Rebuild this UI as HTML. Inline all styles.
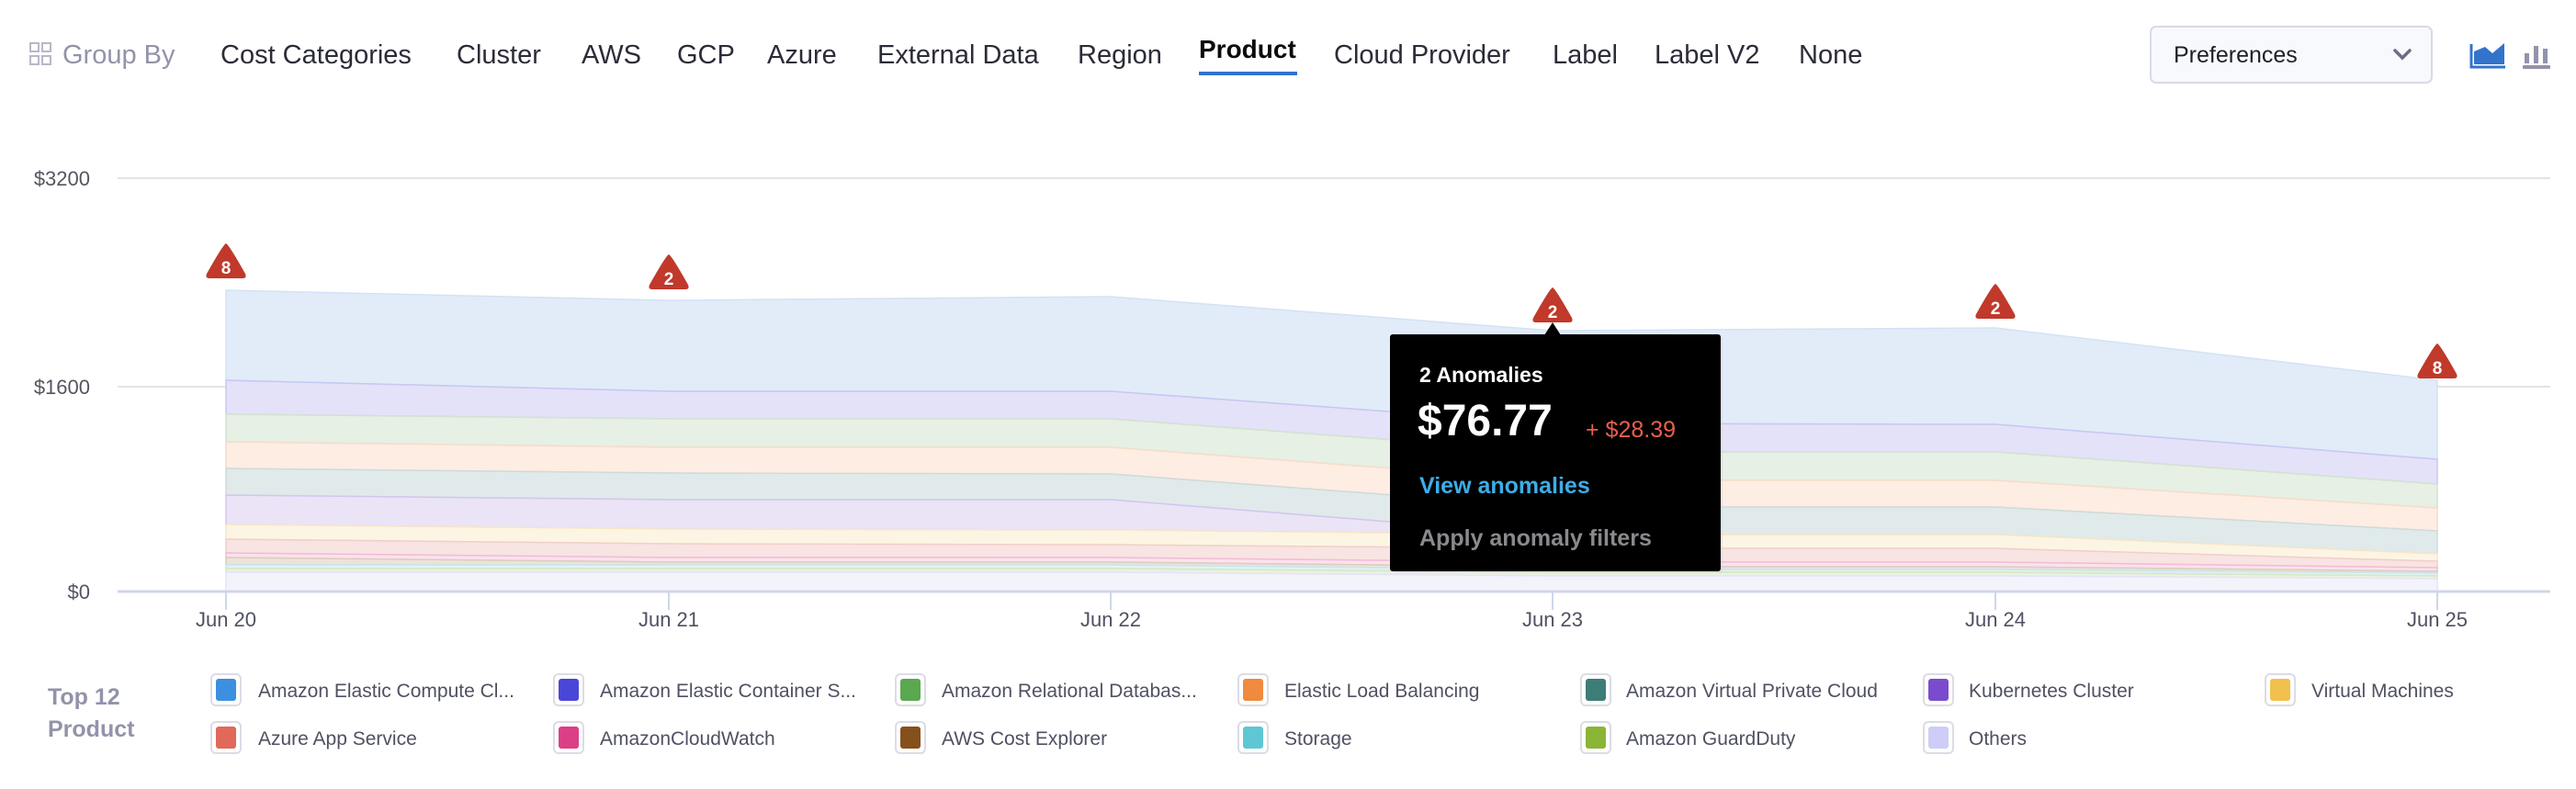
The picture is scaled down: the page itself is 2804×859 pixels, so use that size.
<!DOCTYPE html>
<html><head><meta charset="utf-8"><style>
html,body{margin:0;padding:0;background:#fff;}
body{width:2804px;height:854px;overflow:hidden;font-family:"Liberation Sans",sans-serif;}
</style></head><body>
<svg width="2804" height="854" viewBox="0 0 2804 854" xmlns="http://www.w3.org/2000/svg" font-family="Liberation Sans, sans-serif">
<!-- header -->
<g fill="none" stroke="#b8b8c8" stroke-width="2">
<rect x="33" y="47" width="9" height="9"/><rect x="46" y="47" width="9" height="9"/>
<rect x="33" y="61" width="9" height="9"/><rect x="46" y="61" width="9" height="9"/>
</g>
<g font-size="29" fill="#2b2c38">
<text x="68" y="69" fill="#9293aa">Group By</text>
<text x="240" y="69">Cost Categories</text>
<text x="497" y="69">Cluster</text>
<text x="633" y="69">AWS</text>
<text x="737" y="69">GCP</text>
<text x="835" y="69">Azure</text>
<text x="955" y="69">External Data</text>
<text x="1173" y="69">Region</text>
<text x="1305" y="63" fill="#0b0b0d" font-weight="bold" font-size="28">Product</text>
<text x="1452" y="69">Cloud Provider</text>
<text x="1690" y="69">Label</text>
<text x="1801" y="69">Label V2</text>
<text x="1958" y="69">None</text>
</g>
<rect x="1305" y="78" width="107" height="4" fill="#3273cc"/>
<rect x="2341" y="29" width="306" height="61" rx="6" fill="#f8f9fd" stroke="#d9dae6" stroke-width="2"/>
<text x="2366" y="68" font-size="25" fill="#1f2027">Preferences</text>
<path d="M2607 55 L2615 63 L2623 55" fill="none" stroke="#6b6d85" stroke-width="3.5" stroke-linecap="round"/>
<path d="M2690 48 L2690 73 L2727 73" fill="none" stroke="#3273cc" stroke-width="3"/>
<path d="M2693 70 L2693 56 L2705 51 L2713 58 L2726 47 L2726 70 Z" fill="#3273cc"/>
<g fill="#9293aa"><rect x="2748" y="58" width="5" height="11"/><rect x="2758" y="50" width="5" height="19"/><rect x="2768" y="53" width="5" height="16"/><rect x="2746" y="71" width="30" height="4" rx="1"/></g>
<!-- grid -->
<g stroke="#e3e3e6" stroke-width="2"><line x1="128" y1="194" x2="2776" y2="194"/><line x1="128" y1="421" x2="2776" y2="421"/></g>
<g font-size="22" fill="#555561" text-anchor="end">
<text x="98" y="202">$3200</text><text x="98" y="429">$1600</text><text x="98" y="652">$0</text>
</g>
<!-- areas -->
<g stroke-width="1.5">
<polygon fill="#e1ecf8" stroke="#d3e2f6" points="246,316 728,327 1209,323 1690,360 2172,357 2653,414 2653,500 2172,462 1690,461 1209,426 728,426 246,414"/>
<polygon fill="#e4e2f8" stroke="#c8c6f3" points="246,414 728,426 1209,426 1690,461 2172,462 2653,500 2653,527 2172,492 1690,492 1209,456 728,456 246,451"/>
<polygon fill="#e6f0e4" stroke="#d2e3cf" points="246,451 728,456 1209,456 1690,492 2172,492 2653,527 2653,553 2172,523 1690,523 1209,487 728,487 246,481"/>
<polygon fill="#fdede3" stroke="#f6dccb" points="246,481 728,487 1209,487 1690,523 2172,523 2653,553 2653,578 2172,552 1690,552 1209,516 728,515 246,510"/>
<polygon fill="#e1eaea" stroke="#cfdada" points="246,510 728,515 1209,516 1690,552 2172,552 2653,578 2653,603 2172,582 1690,582 1209,544 728,544 246,539"/>
<polygon fill="#ebe4f6" stroke="#d2c6ee" points="246,539 728,544 1209,544 1690,582 2172,582 2653,603 2653,603 2172,582 1690,582 1209,577 728,576 246,571"/>
<polygon fill="#fdf5e3" stroke="#f6e7c8" points="246,571 728,576 1209,577 1690,582 2172,582 2653,603 2653,611 2172,597 1690,597 1209,593 728,592 246,587"/>
<polygon fill="#f8e4e2" stroke="#f0cfcb" points="246,587 728,592 1209,593 1690,597 2172,597 2653,611 2653,618 2172,612 1690,612 1209,607 728,607 246,602"/>
<polygon fill="#fbe2ee" stroke="#f2bcd6" points="246,602 728,607 1209,607 1690,612 2172,612 2653,618 2653,622 2172,617 1690,617 1209,612 728,612 246,607"/>
<polygon fill="#ece3da" stroke="#dccdbd" points="246,607 728,612 1209,612 1690,617 2172,617 2653,622 2653,624 2172,620 1690,620 1209,615 728,615 246,615"/>
<polygon fill="#e0f3f5" stroke="#c6e8ec" points="246,615 728,615 1209,615 1690,620 2172,620 2653,624 2653,627 2172,623 1690,623 1209,619 728,619 246,619"/>
<polygon fill="#ebf2df" stroke="#d8e6c3" points="246,619 728,619 1209,619 1690,623 2172,623 2653,627 2653,630 2172,627 1690,627 1209,623 728,623 246,623"/>
<polygon fill="#f3f3fc" stroke="#e4e4f8" points="246,623 728,623 1209,623 1690,627 2172,627 2653,630 2653,644 246,644"/>
</g>
<!-- axis -->
<line x1="128" y1="644" x2="2776" y2="644" stroke="#cfd6e8" stroke-width="3"/>
<g stroke="#cfd6e8" stroke-width="2">
<line x1="246" y1="644" x2="246" y2="664"/><line x1="728" y1="644" x2="728" y2="664"/><line x1="1209" y1="644" x2="1209" y2="664"/>
<line x1="1690" y1="644" x2="1690" y2="664"/><line x1="2172" y1="644" x2="2172" y2="664"/><line x1="2653" y1="644" x2="2653" y2="664"/>
</g>
<g font-size="22" fill="#4f5162" text-anchor="middle">
<text x="246" y="682">Jun 20</text><text x="728" y="682">Jun 21</text><text x="1209" y="682">Jun 22</text>
<text x="1690" y="682">Jun 23</text><text x="2172" y="682">Jun 24</text><text x="2653" y="682">Jun 25</text>
</g>
<!-- markers -->
<g fill="#c0392b">
<path d="M246 265 Q249 266 267 298 Q269 303 264 303 L228 303 Q223 303 225 298 Q243 266 246 265Z"/>
<path d="M728 277 Q731 278 749 310 Q751 315 746 315 L710 315 Q705 315 707 310 Q725 278 728 277Z"/>
<path d="M1690 313 Q1693 314 1711 346 Q1713 351 1708 351 L1672 351 Q1667 351 1669 346 Q1687 314 1690 313Z"/>
<path d="M2172 309 Q2175 310 2193 342 Q2195 347 2190 347 L2154 347 Q2149 347 2151 342 Q2169 310 2172 309Z"/>
<path d="M2653 374 Q2656 375 2674 407 Q2676 412 2671 412 L2635 412 Q2630 412 2632 407 Q2650 375 2653 374Z"/>
</g>
<g fill="#fff" font-size="19" font-weight="bold" text-anchor="middle">
<text x="246" y="298">8</text><text x="728" y="310">2</text><text x="1690" y="346">2</text><text x="2172" y="342">2</text><text x="2653" y="407">8</text>
</g>
<!-- tooltip -->
<rect x="1515" y="366" width="360" height="258" rx="3" fill="#d8d8d8" opacity="0.5"/>
<rect x="1513" y="364" width="360" height="258" rx="3" fill="#000"/>
<path d="M1681 365 L1690 351 L1699 365Z" fill="#000"/>
<text x="1545" y="416" font-size="23" font-weight="bold" fill="#fff">2 Anomalies</text>
<text x="1543" y="474" font-size="48" font-weight="bold" fill="#fff">$76.77</text>
<text x="1726" y="476" font-size="25" fill="#e8604c">+ $28.39</text>
<text x="1545" y="537" font-size="25" font-weight="bold" fill="#3dade8">View anomalies</text>
<text x="1545" y="594" font-size="25" font-weight="bold" fill="#8a8a8e">Apply anomaly filters</text>
<!-- legend -->
<g font-size="25" font-weight="bold" fill="#9293aa"><text x="52" y="767">Top 12</text><text x="52" y="802">Product</text></g>
<g fill="#fff" stroke="#dcdce6" stroke-width="2">
<rect x="230" y="734" width="32" height="34" rx="5"/><rect x="603" y="734" width="32" height="34" rx="5"/><rect x="975" y="734" width="32" height="34" rx="5"/><rect x="1348" y="734" width="32" height="34" rx="5"/><rect x="1721" y="734" width="32" height="34" rx="5"/><rect x="2094" y="734" width="32" height="34" rx="5"/><rect x="2466" y="734" width="32" height="34" rx="5"/>
<rect x="230" y="786" width="32" height="34" rx="5"/><rect x="603" y="786" width="32" height="34" rx="5"/><rect x="975" y="786" width="32" height="34" rx="5"/><rect x="1348" y="786" width="32" height="34" rx="5"/><rect x="1721" y="786" width="32" height="34" rx="5"/><rect x="2094" y="786" width="32" height="34" rx="5"/>
</g>
<g>
<rect x="235" y="739" width="22" height="24" rx="3" fill="#3d8fe0"/><rect x="608" y="739" width="22" height="24" rx="3" fill="#4a46d8"/><rect x="980" y="739" width="22" height="24" rx="3" fill="#5aa84f"/><rect x="1353" y="739" width="22" height="24" rx="3" fill="#ef8a3e"/><rect x="1726" y="739" width="22" height="24" rx="3" fill="#3e7c78"/><rect x="2099" y="739" width="22" height="24" rx="3" fill="#7a4ccc"/><rect x="2471" y="739" width="22" height="24" rx="3" fill="#f2c04c"/>
<rect x="235" y="791" width="22" height="24" rx="3" fill="#e0695a"/><rect x="608" y="791" width="22" height="24" rx="3" fill="#dc3f85"/><rect x="980" y="791" width="22" height="24" rx="3" fill="#86501d"/><rect x="1353" y="791" width="22" height="24" rx="3" fill="#5ec7d3"/><rect x="1726" y="791" width="22" height="24" rx="3" fill="#8ab536"/><rect x="2099" y="791" width="22" height="24" rx="3" fill="#cdcdf8"/>
</g>
<g font-size="21" fill="#4f5162">
<text x="281" y="759">Amazon Elastic Compute Cl...</text><text x="653" y="759">Amazon Elastic Container S...</text><text x="1025" y="759">Amazon Relational Databas...</text><text x="1398" y="759">Elastic Load Balancing</text><text x="1770" y="759">Amazon Virtual Private Cloud</text><text x="2143" y="759">Kubernetes Cluster</text><text x="2516" y="759">Virtual Machines</text>
<text x="281" y="811">Azure App Service</text><text x="653" y="811">AmazonCloudWatch</text><text x="1025" y="811">AWS Cost Explorer</text><text x="1398" y="811">Storage</text><text x="1770" y="811">Amazon GuardDuty</text><text x="2143" y="811">Others</text>
</g>
</svg>
</body></html>
